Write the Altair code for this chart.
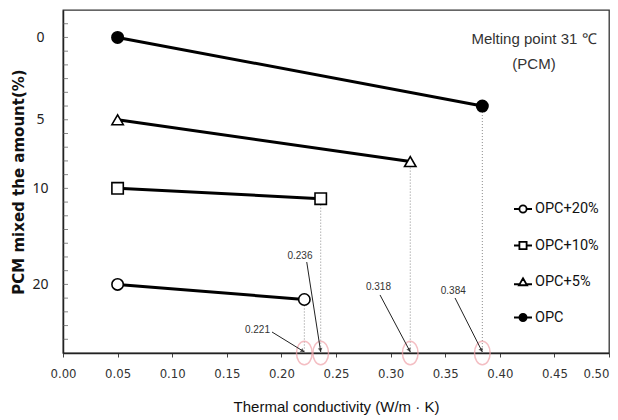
import math
import altair as alt
import pandas as pd

# ---- data ----
series = ["OPC", "OPC+5%", "OPC+10%", "OPC+20%"]
start_k = [0.05, 0.05, 0.05, 0.05]
end_k = [0.384, 0.318, 0.236, 0.221]
start_row = [0, 6, 11, 18]          # axis rows of the labels 0, 5, 10, 20
end_row = [5.0, 9.05, 11.75, 19.1]
ytick_rows = [0, 6, 11, 18]
ytick_labels = ["0", "5", "10", "20"]
minor_rows = list(range(-1, 23))
x_ticks = [0.00, 0.05, 0.10, 0.15, 0.20, 0.25, 0.30, 0.35, 0.40, 0.45, 0.50]
legend_order = ["OPC+20%", "OPC+10%", "OPC+5%", "OPC"]

ann_text = ["0.221", "0.236", "0.318", "0.384"]
ann_label_k = [0.1781, 0.2170, 0.2889, 0.3574]
ann_label_row = [21.32, 15.93, 18.19, 18.48]
ann_from_k = [0.1914, 0.2232, 0.2903, 0.3590]
ann_from_row = [21.47, 16.37, 18.77, 18.99]
ann_tip_k = [0.221, 0.236, 0.318, 0.384]

note_text = ["Melting point 31 ℃", "(PCM)"]
note_k = [0.4313, 0.4313]
note_row = [0.12, 1.94]

X_DOM = [0.0, 0.5]
Y_DOM = [-2, 23]
W, H = 546, 343

xs = alt.Scale(domain=X_DOM, nice=False, zero=False)
ys = alt.Scale(domain=Y_DOM, reverse=True, nice=False, zero=False)

shape_dom = legend_order
shape_rng = ["circle", "square", "triangle-up", "circle"]
fill_rng = ["white", "white", "white", "black"]
legend_paths = [
    "M-1,0L-0.4,0M0.4,0L1,0M-0.4,0A0.4,0.4,0,1,1,0.4,0A0.4,0.4,0,1,1,-0.4,0Z",
    "M-1,0L-0.4,0M0.4,0L1,0M-0.4,-0.4L0.4,-0.4L0.4,0.4L-0.4,0.4Z",
    "M-1,0.25L-0.36,0.25M0.36,0.25L1,0.25M0,-0.42L0.45,0.36L-0.45,0.36Z",
    "M-1,0L-0.4,0M0.4,0L1,0M-0.4,0A0.4,0.4,0,1,1,0.4,0A0.4,0.4,0,1,1,-0.4,0Z",
]

# ---- tables ----
rows = []
for s, k0, k1, r0, r1 in zip(series, start_k, end_k, start_row, end_row):
    rows.append({"series": s, "k": k0, "row": r0, "pt": "start"})
    rows.append({"series": s, "k": k1, "row": r1, "pt": "end"})
lines_df = pd.DataFrame(rows)
ends_df = pd.DataFrame({"series": series, "k": end_k, "row": end_row,
                        "row2": [Y_DOM[1]] * len(series)})

arrows = []
for t, lk, lr, fk, fr, tk in zip(ann_text, ann_label_k, ann_label_row,
                                 ann_from_k, ann_from_row, ann_tip_k):
    tr = Y_DOM[1] - 0.08
    dx = (tk - fk) / (X_DOM[1] - X_DOM[0]) * W
    dy = (tr - fr) / (Y_DOM[1] - Y_DOM[0]) * H
    ang = math.degrees(math.atan2(dx, -dy)) % 360
    L = math.hypot(dx, dy)
    back = 2.5
    hk = tk - dx / L * back / W * (X_DOM[1] - X_DOM[0])
    hr = tr - dy / L * back / H * (Y_DOM[1] - Y_DOM[0])
    arrows.append({"t": t, "lk": lk, "lr": lr, "k": fk, "row": fr,
                   "k2": tk, "row2": tr, "hk": hk, "hr": hr, "ang": ang})
arr_df = pd.DataFrame(arrows)
minor_df = pd.DataFrame({"row": minor_rows})
note_df = pd.DataFrame({"t": note_text, "k": note_k, "row": note_row})

label_expr = " : ".join(
    f"datum.value == {r} ? '{l}'" for r, l in zip(ytick_rows, ytick_labels)
) + " : ''"

NARROW = "Liberation Sans Narrow, Arial Narrow, DejaVu Sans Condensed, sans-serif"

x_axis = alt.Axis(
    values=x_ticks, format=".2f", title="Thermal conductivity (W/m · K)",
    labelFont=NARROW, labelFontSize=13, labelColor="#333", labelFlush=False,
    labelAlign=alt.ExprRef(expr=f"datum.value >= {X_DOM[1]} ? 'right' : 'center'"),
    labelPadding=10, tickSize=4, tickColor="#444", domainColor="#222",
    domainWidth=1.5, grid=False, titleFont="Liberation Sans", titleFontSize=15,
    titleFontWeight="normal", titleColor="#111", titlePadding=19)
y_axis = alt.Axis(
    values=ytick_rows, labelExpr=label_expr, ticks=False, tickSize=0,
    labelAlign="center", labelBaseline="middle", labelPadding=23,
    labelFont="Noto Sans", labelFontSize=14, labelColor="#222",
    domainColor="#222", domainWidth=1.5, grid=False,
    title="PCM mixed the amount(%)", titleFont="DejaVu Sans",
    titleFontSize=15, titleFontWeight="bold", titleColor="#111",
    titlePadding=5)

def X(f):
    return alt.X(f, scale=xs, axis=x_axis)

def Y(f):
    return alt.Y(f, scale=ys, axis=y_axis)

# ---- layers ----
base_lines = alt.Chart(lines_df).mark_line(color="black", strokeWidth=3).encode(
    x=X("k:Q"), y=Y("row:Q"), detail="series:N",
)

minor = alt.Chart(minor_df).mark_tick(
    orient="horizontal", size=5, thickness=1, color="#555").encode(
    x=alt.value(2.5), y=Y("row:Q"),
)

drops = alt.Chart(ends_df).mark_rule(color="#8a8a8a", strokeWidth=1,
                                     strokeDash=[1, 2]).encode(
    x=X("k:Q"), y=Y("row:Q"), y2="row2:Q",
)

rings = alt.Chart(ends_df).mark_point(
    shape="M0,-1A0.66,1,0,1,1,0,1A0.66,1,0,1,1,0,-1Z",
    size=560, color="#f0a3aa", strokeWidth=1.5, filled=False).encode(
    x=X("k:Q"), y=Y("row2:Q"),
)

arrow_lines = alt.Chart(arr_df).mark_rule(color="#222", strokeWidth=1).encode(
    x=X("k:Q"), x2="k2:Q", y=Y("row:Q"), y2="row2:Q",
)
arrow_heads = alt.Chart(arr_df).mark_point(
    shape="triangle", size=22, filled=True, color="#222").encode(
    x=X("hk:Q"), y=Y("hr:Q"), angle=alt.Angle("ang:Q", scale=None),
)
arrow_text = alt.Chart(arr_df).mark_text(
    font="Liberation Sans", fontSize=10, color="#333").encode(
    x=X("lk:Q"), y=Y("lr:Q"), text="t:N",
)

points = alt.Chart(lines_df).mark_point(
    size=130, stroke="black", strokeWidth=1.6, filled=True, opacity=1).encode(
    x=X("k:Q"), y=Y("row:Q"),
    shape=alt.Shape("series:N", scale=alt.Scale(domain=shape_dom, range=shape_rng),
                    legend=None),
    fill=alt.Fill("series:N", scale=alt.Scale(domain=shape_dom, range=fill_rng),
                  legend=None),
)

leg_props = dict(title=None, orient="none", legendX=450, legendY=189,
                 symbolSize=324, symbolStrokeColor="black",
                 symbolStrokeWidth=1.8, labelFont="Roboto", labelFontSize=14.5,
                 labelColor="#111", rowPadding=18.5, labelOffset=2, padding=0)

# hidden helper layer: only its legend is shown
legend_layer = alt.Chart(ends_df).mark_point(
    size=324, strokeWidth=1.8, filled=False, opacity=1, clip=True).encode(
    x=alt.value(-300), y=alt.value(-300),
    shape=alt.Shape("series:N", scale=alt.Scale(domain=shape_dom, range=legend_paths),
                    sort=legend_order, legend=alt.Legend(**leg_props)),
    fill=alt.Fill("series:N", scale=alt.Scale(domain=shape_dom, range=fill_rng),
                  sort=legend_order, legend=alt.Legend(**leg_props)),
    stroke=alt.Stroke("series:N",
                      scale=alt.Scale(domain=shape_dom, range=["black"] * 4),
                      sort=legend_order, legend=alt.Legend(**leg_props)),
)

notes = alt.Chart(note_df).mark_text(
    font="Liberation Sans", fontSize=15, color="#333").encode(
    x=X("k:Q"), y=Y("row:Q"), text="t:N",
)

chart = alt.layer(
    base_lines, minor, drops, rings, arrow_lines, arrow_heads, arrow_text,
    points, legend_layer, notes,
).resolve_scale(shape="independent", fill="independent",
                stroke="independent").properties(
    width=W, height=H, autosize="none",
    padding={"left": 55, "top": 2, "right": 1, "bottom": 66},
).configure_view(stroke="#333", strokeWidth=1.3)

chart.save("out.html", embed_options={"renderer": "svg", "actions": False})
